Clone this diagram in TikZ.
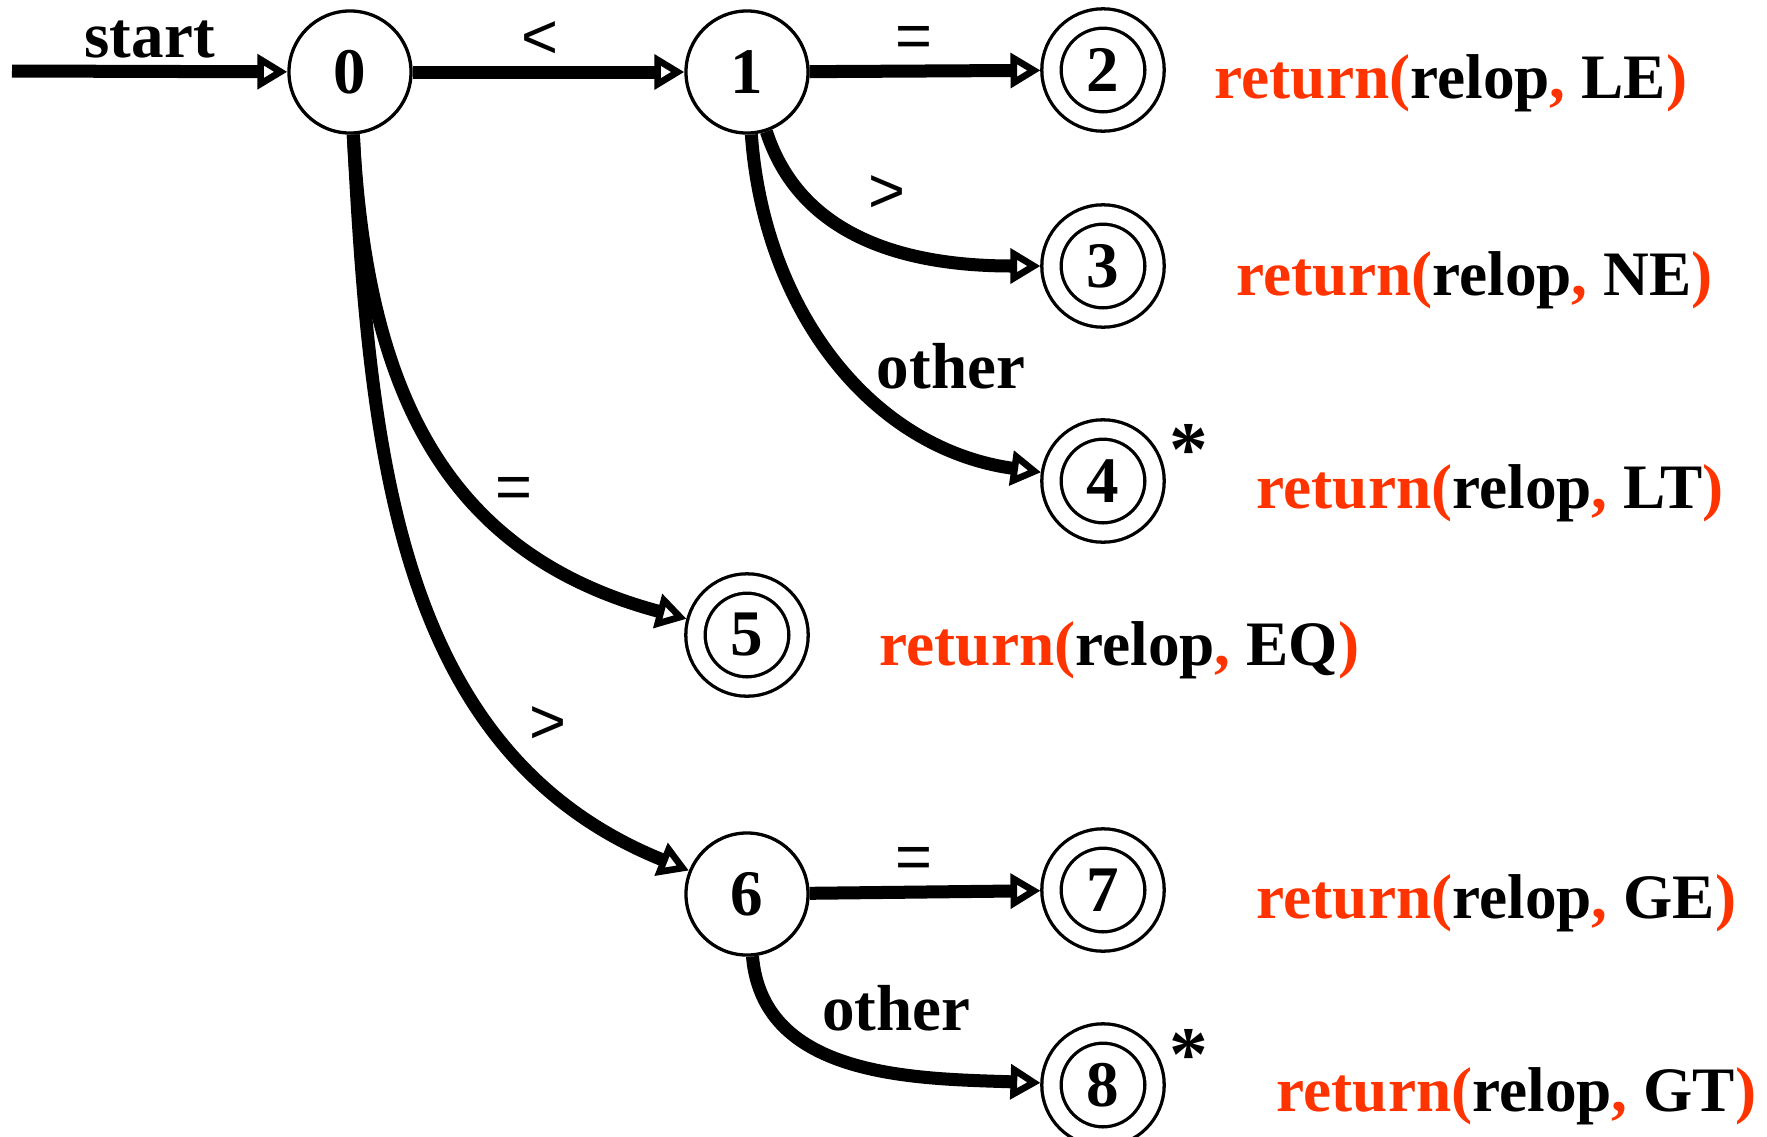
\documentclass[tikz,border=0pt]{standalone}
\usepackage{fontspec}
\setmainfont{Liberation Serif}
\setsansfont{Liberation Sans}
\usetikzlibrary{automata,arrows.meta,positioning}
\definecolor{retred}{RGB}{255,51,0}
\newcommand{\relopret}[1]{{\color{retred}return(}relop{\color{retred},} #1{\color{retred})}}

\begin{document}
\begin{tikzpicture}[
    x=0.01cm, y=0.01cm,
    ->, >={Triangle[open, length=0.30cm, width=0.34cm, line width=1.9pt]},
    auto, every state/.style={circle, draw, line width=0.033cm, minimum size=1.22cm,
        inner sep=0pt, font=\fontsize{18.5}{20}\selectfont\bfseries},
    accepting/.style={double, double distance=0.16cm, minimum size=1.03cm, outer sep=0.11cm},
    every edge/.style={draw, line width=0.13cm},
    sym/.style={font=\fontsize{18}{20}\selectfont\sffamily, inner sep=2pt},
    word/.style={font=\fontsize{18.5}{20}\selectfont\bfseries, inner sep=2pt},
    ret/.style={font=\fontsize{18}{20}\selectfont\bfseries, anchor=base west, inner sep=0pt}]
    \useasboundingbox (0,0) rectangle (1767,-1136);

    % Define states
    \node[state] (q0) at (350,-72) {0};
    \node[state] (q1) at (747,-72) {1};
    \node[state, accepting] (q2) at (1103,-70) {2};
    \node[state, accepting] (q3) at (1103,-266) {3};
    \node[state, accepting] (q4) at (1103,-481) {4};
    \node[state, accepting] (q5) at (747,-635) {5};
    \node[state] (q6) at (747,-894) {6};
    \node[state, accepting] (q7) at (1103,-890) {7};
    \node[state, accepting] (q8) at (1103,-1085) {8};
    \coordinate (start) at (12,-71);

    % Retract marks and actions
    \node[word, font=\fontsize{22}{22}\selectfont\bfseries] (star4) at (1189,-450) {*};
    \node[word, font=\fontsize{22}{22}\selectfont\bfseries] (star8) at (1189,-1055) {*};
    \node[ret] (ret2) at (1214,-98) {\relopret{LE}};
    \node[ret] (ret3) at (1236,-295) {\relopret{NE}};
    \node[ret] (ret4) at (1256,-508) {\relopret{LT}};
    \node[ret] (ret5) at (879,-665) {\relopret{EQ}};
    \node[ret] (ret7) at (1256,-918) {\relopret{GE}};
    \node[ret] (ret8) at (1276,-1111) {\relopret{GT}};

    % Draw transitions
    \path (start) edge node[word, above] {start} (q0)
          (q0) edge node[sym, above, pos=0.47] {<} (q1)
               edge[out=-87, in=165, looseness=1.1] node[sym, pos=0.6, right=4pt] {=} (q5)
               edge[out=-87, in=158] node[sym, pos=0.71, right=6pt] {>} (q6)
          (q1) edge node[sym, above, pos=0.45] {=} (q2)
               edge[out=-72, in=180] node[sym, pos=0.55, above=6pt] {>} (q3)
               edge[out=-86, in=172] node[word, pos=0.52, right=6pt] {other} (q4)
          (q6) edge node[sym, above, pos=0.45] {=} (q7)
               edge[out=-85, in=178] node[word, pos=0.62, above=8pt] {other} (q8);
\end{tikzpicture}
\end{document}
